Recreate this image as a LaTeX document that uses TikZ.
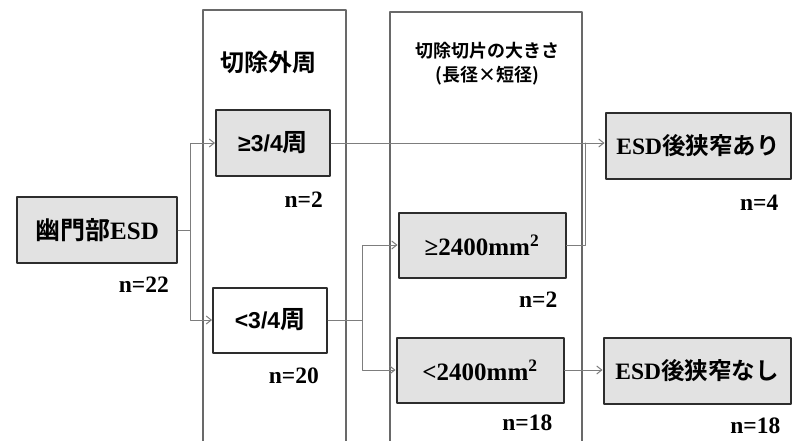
\documentclass[tikz,border=0pt]{standalone}
\usepackage{fontspec}
\setmainfont{Liberation Serif}
\newfontfamily\jpfont{Noto Sans CJK JP}[BoldFont={Noto Sans CJK JP Bold}]
\newfontfamily\lsfont{Liberation Sans}
\usetikzlibrary{positioning,arrows.meta}
\definecolor{boxfill}{RGB}{226,226,226}
\definecolor{boxline}{RGB}{45,45,45}
\definecolor{connline}{RGB}{125,125,125}
\definecolor{panelline}{RGB}{105,105,105}

\begin{document}
\begin{tikzpicture}[x=1pt,y=-1pt, line cap=round, line join=round]

\tikzset{
  box/.style={draw=boxline, line width=2pt, minimum width=114pt, minimum height=65pt, inner sep=0pt, font=\fontsize{25}{28}\selectfont\bfseries},
  gbox/.style={box, fill=boxfill},
  outbox/.style={gbox, minimum height=66pt, font=\fontsize{23.5}{28}\selectfont\bfseries},
  nlab/.style={inner sep=0pt, font=\fontsize{23.5}{26}\selectfont\bfseries},
  ttl/.style={align=center, inner sep=0pt, font=\fontsize{24}{28}\selectfont\bfseries\jpfont},
  panel/.style={draw=panelline, line width=1.2pt},
  conn/.style={draw=connline, line width=1pt},
  arr/.style={conn, -{Straight Barb[length=5pt,width=8pt]}},
}

\useasboundingbox (0,0) rectangle (794,441);

% panels
\draw[panel] (203,10) rectangle (346,445);
\draw[panel] (390,12) rectangle (582,445);

% titles
\node[ttl] (t1) at (268,62) {切除外周};
\node[ttl, font=\fontsize{18}{24}\selectfont\bfseries\jpfont] (t2) at (487,64) {切除切片の大きさ\\(長径×短径)};

% boxes
\node[gbox, minimum width=160pt, minimum height=66pt] (esd) at (97,230) {{\jpfont 幽門部}ESD};
\node[gbox] (ge34) at (273,143) {{\lsfont\fontsize{23}{26}\selectfont ≥3/4}{\jpfont 周}};
\node[box] (lt34) at (270,320) {{\lsfont\fontsize{23}{26}\selectfont <3/4}{\jpfont 周}};
\node[gbox, minimum width=167pt] (ge2400) at (482,245) {≥2400mm\textsuperscript{2}};
\node[gbox, minimum width=167pt] (lt2400) at (480,370) {<2400mm\textsuperscript{2}};
\node[outbox, minimum width=185pt] (ari) at (698,146) {ESD{\jpfont 後狭窄あり}};
\node[outbox, minimum width=187pt] (nashi) at (697,371) {ESD{\jpfont 後狭窄なし}};

% counts
\node[nlab, below left=13pt and 9pt] (n22) at (esd.south east) {n=22};
\node[nlab, below left=15pt and 8pt] (n2a) at (ge34.south east) {n=2};
\node[nlab, below left=14pt and 9pt] (n20) at (lt34.south east) {n=20};
\node[nlab, below left=13pt and 9pt] (n2b) at (ge2400.south east) {n=2};
\node[nlab, below left=11pt and 12pt] (n18a) at (lt2400.south east) {n=18};
\node[nlab, below left=15pt and 13pt] (n4) at (ari.south east) {n=4};
\node[nlab, below left=13pt and 11pt] (n18b) at (nashi.south east) {n=18};

% connectors
\coordinate (f1) at (190,230);
\coordinate (f2) at (362,320);
\coordinate (j1) at (585,146);
\draw[conn] (esd.east) -- (f1);
\draw[arr] (f1) |- (ge34.west);
\draw[arr] (f1) |- (lt34.west);
\draw[arr] (ge34.east) -- (ge34.east -| ari.west);
\draw[conn] (lt34.east) -- (f2);
\draw[arr] (f2) |- (ge2400.west);
\draw[arr] (f2) |- (lt2400.west);
\draw[conn] (ge2400.east) -| (j1 |- ge34.east);
\draw[arr] (lt2400.east) -- (lt2400.east -| nashi.west);

\end{tikzpicture}
\end{document}
